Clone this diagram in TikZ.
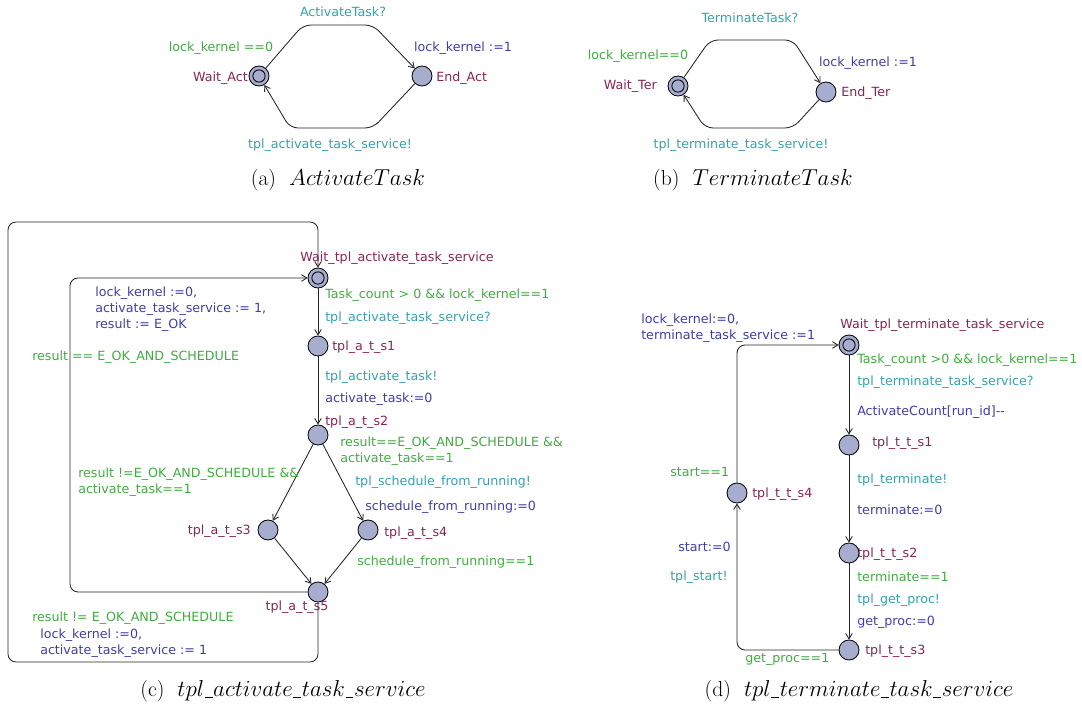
\documentclass[tikz,border=0pt]{standalone}
\usepackage{fontspec}
\newfontfamily\uppfont{DejaVu Sans}
\usetikzlibrary{arrows.meta, positioning}
\definecolor{guardc}{RGB}{64,172,64}
\definecolor{syncc}{RGB}{52,162,172}
\definecolor{assignc}{RGB}{62,62,170}
\definecolor{namec}{RGB}{135,35,85}
\definecolor{statec}{RGB}{166,173,206}
\newcommand{\capus}{\kern.03em\rule[-0.05em]{0.36em}{0.45pt}\kern.03em}
\tikzset{
    loc/.style={circle, draw, line width=0.65pt, fill=statec, minimum size=15pt, inner sep=0pt},
    initloc/.style={loc, path picture={\draw[line width=0.65pt] (path picture bounding box.center) circle (4.6pt);}},
    trans/.style={draw=black!85, line width=0.65pt, rounded corners=6pt, -{Straight Barb[length=4pt, width=5pt]}},
    lbl/.style={font=\uppfont\fontsize{9.5}{12}\selectfont, inner sep=0pt, align=left},
    locname/.style={lbl, text=namec},
    guard/.style={lbl, text=guardc},
    sync/.style={lbl, text=syncc},
    assign/.style={lbl, text=assignc},
    subcap/.style={font=\fontsize{16.2}{19}\selectfont, inner sep=0pt}
}

\begin{document}
\begin{tikzpicture}[x=0.75pt, y=-0.75pt]
    \useasboundingbox (0,0) rectangle (1082,709);

    % (a) ActivateTask
    \node (wa) [initloc] at (259,76) {};
    \node (ea) [loc] at (422,76) {};
    \node (wan) [locname, anchor=east] at (248,78) {Wait\_Act};
    \node (ean) [locname, anchor=west] at (436,78) {End\_Act};
    \node (aq) [sync] at (343,12) {ActivateTask?};
    \node (ag) [guard] at (221,48) {lock\_kernel ==0};
    \node (aa) [assign] at (463,48) {lock\_kernel :=1};
    \node (as) [sync] at (330,145) {tpl\_activate\_task\_service!};
    \draw [trans] (wa) -- (303,25) -- (373,25) -- (ea);
    \draw [trans] (ea) -- (373,128) -- (290,128) -- (wa);
    \node (capa) [subcap] at (338,180) {(a)\hspace{.6em}$ActivateTask$};

    % (b) TerminateTask
    \node (wt) [initloc] at (678,86) {};
    \node (et) [loc] at (826,92) {};
    \node (wtn) [locname, anchor=east] at (657,86) {Wait\_Ter};
    \node (etn) [locname, anchor=west] at (841,93) {End\_Ter};
    \node (tq) [sync] at (750,18) {TerminateTask?};
    \node (tg) [guard] at (638,56) {lock\_kernel==0};
    \node (ta) [assign] at (868,63) {lock\_kernel :=1};
    \node (ts) [sync] at (741,145) {tpl\_terminate\_task\_service!};
    \draw [trans] (wt) -- (710,40) -- (793,40) -- (et);
    \draw [trans] (et) -- (793,128) -- (705,128) -- (wt);
    \node (capb) [subcap] at (753,180) {(b)\hspace{.6em}$TerminateTask$};

    % (c) tpl_activate_task_service
    \node (cw) [initloc] at (318,278) {};
    \node (c1) [loc] at (318,346) {};
    \node (c2) [loc] at (318,435) {};
    \node (c3) [loc] at (268,530) {};
    \node (c4) [loc] at (368,530) {};
    \node (c5) [loc] at (318,592) {};
    \node (cwn) [locname] at (397,258) {Wait\_tpl\_activate\_task\_service};
    \node (c1n) [locname, anchor=west] at (332,347) {tpl\_a\_t\_s1};
    \node (c2n) [locname, anchor=west] at (325,422) {tpl\_a\_t\_s2};
    \node (c3n) [locname, anchor=east] at (251,531) {tpl\_a\_t\_s3};
    \node (c4n) [locname, anchor=west] at (384,533) {tpl\_a\_t\_s4};
    \node (c5n) [locname] at (297,607) {tpl\_a\_t\_s5};

    \draw [trans] (cw) -- (c1);
    \draw [trans] (c1) -- (c2);
    \draw [trans] (c2) -- (c3);
    \draw [trans] (c2) -- (c4);
    \draw [trans] (c3) -- (c5);
    \draw [trans] (c4) -- (c5);
    \draw [trans] (c5) -- (70,592) -- (70,278) -- (cw);
    \draw [trans] (c5) -- (318,662) -- (8,662) -- (8,222) -- (318,222) -- (cw);

    \node (cg1) [guard, anchor=west] at (325,295) {Task\_count > 0 \&\& lock\_kernel==1};
    \node (cs1) [sync, anchor=west] at (325,318) {tpl\_activate\_task\_service?};
    \node (cs2) [sync, anchor=west] at (325,377) {tpl\_activate\_task!};
    \node (ca2) [assign, anchor=west] at (325,399) {activate\_task:=0};
    \node (cg4) [guard, anchor=west] at (340,451) {result==E\_OK\_AND\_SCHEDULE \&\&\\activate\_task==1};
    \node (cs4) [sync, anchor=west] at (355,482) {tpl\_schedule\_from\_running!};
    \node (ca4) [assign, anchor=west] at (365,507) {schedule\_from\_running:=0};
    \node (cg3) [guard, anchor=west] at (78,482) {result !=E\_OK\_AND\_SCHEDULE \&\&\\activate\_task==1};
    \node (cg5) [guard, anchor=west] at (357,562) {schedule\_from\_running==1};
    \node (cai) [assign, anchor=west] at (95,309) {lock\_kernel :=0,\\activate\_task\_service := 1,\\result := E\_OK};
    \node (cgi) [guard, anchor=west] at (32,357) {result == E\_OK\_AND\_SCHEDULE};
    \node (cgo) [guard, anchor=west] at (32,618) {result != E\_OK\_AND\_SCHEDULE};
    \node (cao) [assign, anchor=west] at (40,643) {lock\_kernel :=0,\\activate\_task\_service := 1};
    \node (capc) [subcap] at (283,691) {(c)\hspace{.6em}$tpl\capus activate\capus task\capus service$};

    % (d) tpl_terminate_task_service
    \node (d2n) [locname, anchor=west] at (857,554) {tpl\_t\_t\_s2};
    \node (dw) [initloc] at (849,345) {};
    \node (d1) [loc] at (849,445) {};
    \node (d2) [loc] at (849,553) {};
    \node (d3) [loc] at (849,650) {};
    \node (d4) [loc] at (737,493) {};
    \node (dwn) [locname, anchor=west] at (840,325) {Wait\_tpl\_terminate\_task\_service};
    \node (d1n) [locname, anchor=west] at (872,443) {tpl\_t\_t\_s1};
    \node (d3n) [locname, anchor=west] at (865,651) {tpl\_t\_t\_s3};
    \node (d4n) [locname, anchor=west] at (752,494) {tpl\_t\_t\_s4};

    \draw [trans] (dw) -- (d1);
    \draw [trans] (d1) -- (d2);
    \draw [trans] (d2) -- (d3);
    \draw [trans] (d3) -- (737,650) -- (d4);
    \draw [trans] (d4) -- (737,345) -- (dw);

    \node (da4) [assign, anchor=west] at (641,328) {lock\_kernel:=0,\\terminate\_task\_service :=1};
    \node (dg1) [guard, anchor=west] at (857,360) {Task\_count >0 \&\& lock\_kernel==1};
    \node (ds1) [sync, anchor=west] at (857,382) {tpl\_terminate\_task\_service?};
    \node (da1) [assign, anchor=west] at (857,412) {ActivateCount[run\_id]-{}-};
    \node (ds2) [sync, anchor=west] at (857,480) {tpl\_terminate!};
    \node (da2) [assign, anchor=west] at (857,510) {terminate:=0};
    \node (dg3) [guard, anchor=west] at (857,577) {terminate==1};
    \node (ds3) [sync, anchor=west] at (857,600) {tpl\_get\_proc!};
    \node (da3) [assign, anchor=west] at (857,622) {get\_proc:=0};
    \node (dg4) [guard, anchor=west] at (745,659) {get\_proc==1};
    \node (da5) [assign, anchor=west] at (678,547) {start:=0};
    \node (ds5) [sync, anchor=west] at (670,577) {tpl\_start!};
    \node (dg5) [guard, anchor=west] at (670,472) {start==1};
    \node (capd) [subcap] at (859,691) {(d)\hspace{.6em}$tpl\capus terminate\capus task\capus service$};

\end{tikzpicture}
\end{document}
